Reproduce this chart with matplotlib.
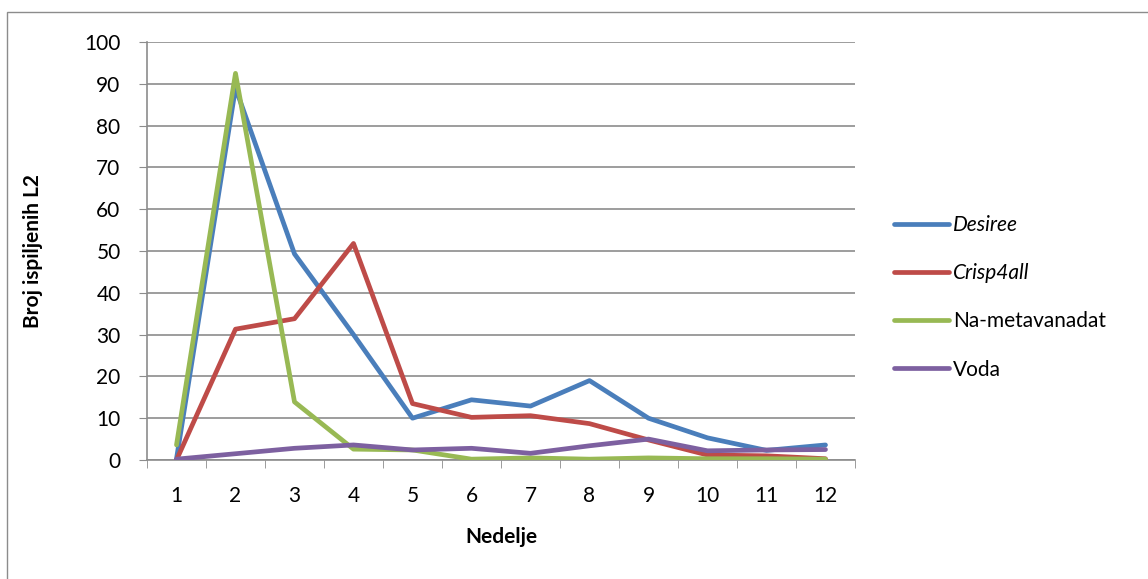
import matplotlib
matplotlib.use('Agg')
import matplotlib.pyplot as plt
from matplotlib.patches import Rectangle

weeks = list(range(1, 13))
desiree = [0.3, 89, 49.3, 30, 10, 14.4, 12.9, 19, 10, 5.3, 2.3, 3.6]
crisp4all = [0, 31.3, 33.8, 51.8, 13.5, 10.2, 10.6, 8.7, 4.8, 1.2, 1, 0.3]
na_metavanadat = [3.6, 92.5, 13.9, 2.6, 2.4, 0.2, 0.5, 0.2, 0.5, 0.3, 0.3, 0.2]
voda = [0.2, 1.5, 2.8, 3.6, 2.4, 2.8, 1.6, 3.4, 5, 2.2, 2.4, 2.5]

plt.rcParams['font.family'] = ['Lato', 'DejaVu Sans']

fig = plt.figure(figsize=(11.48, 5.79), dpi=100)
fig.patches.append(Rectangle((7 / 1148, -0.01), 1.02, 1 - 12 / 579 + 0.01,
                             transform=fig.transFigure, fill=False,
                             edgecolor='#8c8c8c', linewidth=1))
ax = fig.add_axes([147 / 1148, 119 / 579, 708 / 1148, 418 / 579])

lw = 3.4
ax.plot(weeks, desiree, color='#4A7EBB', lw=lw, label='Desiree', solid_capstyle='round', zorder=3)
ax.plot(weeks, crisp4all, color='#BE4B48', lw=lw, label='Crisp4all', solid_capstyle='round', zorder=3)
ax.plot(weeks, na_metavanadat, color='#98B954', lw=lw, label='Na-metavanadat', solid_capstyle='round', zorder=3)
ax.plot(weeks, voda, color='#7D60A0', lw=lw, label='Voda', solid_capstyle='round', zorder=3)

ax.set_xlim(0.5, 12.5)
ax.set_ylim(0, 100)
ax.set_yticks(range(0, 101, 10))
ax.set_xticks(weeks)
ax.set_xticks([w + 0.5 for w in range(0, 13)], minor=True)
ax.tick_params(axis='x', which='major', length=0, pad=19, labelsize=15)
ax.tick_params(axis='x', which='minor', length=6, color='#8c8c8c', direction='out')
ax.tick_params(axis='y', which='major', length=6, color='#8c8c8c', labelsize=15, pad=13)
ax.grid(axis='y', color='#8c8c8c', lw=1.2)
ax.set_axisbelow(True)
for s in ['top', 'right']:
    ax.spines[s].set_visible(False)
for s in ['left', 'bottom']:
    ax.spines[s].set_color('#8c8c8c')
    ax.spines[s].set_linewidth(1.2)

ax.set_xlabel('Nedelje', fontsize=15, fontweight='bold', labelpad=15)
ax.set_ylabel('Broj ispiljenih L2', fontsize=15, fontweight='bold', labelpad=30)

leg = ax.legend(loc='center left', bbox_to_anchor=(1.055, 0.389), frameon=False,
                fontsize=15, handlelength=2.65, handletextpad=0.2, labelspacing=1.35,
                borderpad=0, borderaxespad=0)
for t in leg.get_texts()[:2]:
    t.set_style('italic')

fig.savefig('out.png', dpi=100)
plt.close()
